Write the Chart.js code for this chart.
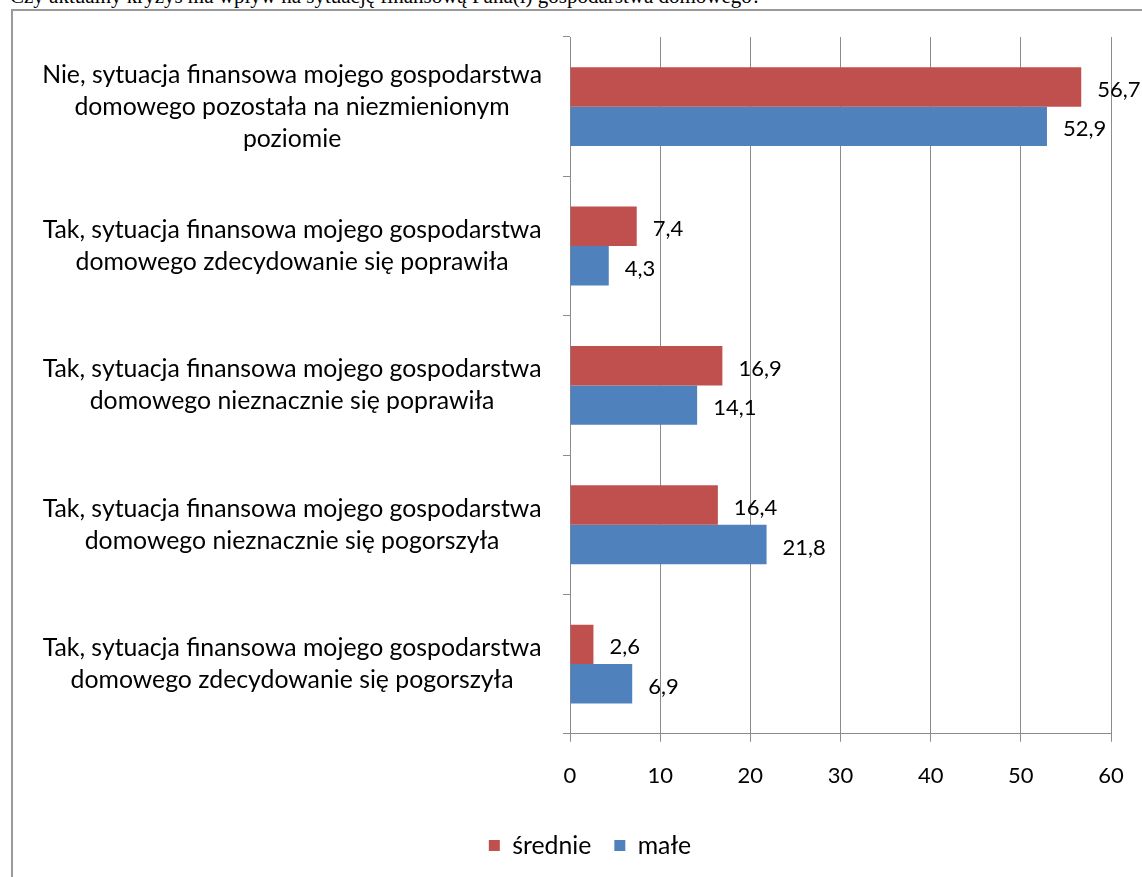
<!DOCTYPE html>
<html>
<head>
<meta charset="utf-8">
<script src="https://cdn.jsdelivr.net/npm/chart.js@4.4.0/dist/chart.umd.min.js"></script>
<style>
  html, body { margin: 0; padding: 0; background: #fff; overflow: hidden; }
  body { width: 1142px; height: 877px; position: relative; }
  .question {
    position: absolute; left: 10px; top: -14px; white-space: nowrap;
    font: 21px/21px "Liberation Serif", "Times New Roman", serif; color: #000;
  }
  .frame {
    position: absolute; left: 11px; top: 9px; width: 1180px; height: 900px;
    border: 2px solid #9a9a9a; background: #fff; overflow: hidden;
  }
  .frame canvas { position: absolute; left: 0; top: 0; }
</style>
</head>
<body>
<div class="question">Czy aktualny kryzys ma wpływ na sytuację finansową Pana(i) gospodarstwa domowego?</div>
<div class="frame"><canvas id="c" width="1160" height="871"></canvas></div>
<script>
// categories (top to bottom)
const categories = [
  ['Nie, sytuacja finansowa mojego gospodarstwa', 'domowego pozostała na niezmienionym', 'poziomie'],
  ['Tak, sytuacja finansowa mojego gospodarstwa', 'domowego zdecydowanie się poprawiła'],
  ['Tak, sytuacja finansowa mojego gospodarstwa', 'domowego nieznacznie się poprawiła'],
  ['Tak, sytuacja finansowa mojego gospodarstwa', 'domowego nieznacznie się pogorszyła'],
  ['Tak, sytuacja finansowa mojego gospodarstwa', 'domowego zdecydowanie się pogorszyła'],
];
const srednie = [56.7, 7.4, 16.9, 16.4, 2.6];
const male = [52.9, 4.3, 14.1, 21.8, 6.9];
const xTicks = [0, 10, 20, 30, 40, 50, 60];

const RED = '#c0504d';
const BLUE = '#4f81bd';
const GRID = '#8c8c8c';
const FONT = 'Lato, "Open Sans", sans-serif';
const TEXT_SIZE = 24.8;  // lowercase text (labels, legend)
const NUM_SIZE = 22;     // digits (ticks, value labels)

// value labels to the right of each bar, decimal comma
const valueLabels = {
  id: 'valueLabels',
  afterDatasetsDraw(chart) {
    const ctx = chart.ctx;
    ctx.save();
    ctx.font = `${NUM_SIZE}px ${FONT}`;
    ctx.fillStyle = '#000';
    ctx.textAlign = 'left';
    ctx.textBaseline = 'middle';
    chart.data.datasets.forEach((ds, i) => {
      chart.getDatasetMeta(i).data.forEach((bar, j) => {
        ctx.fillText(ds.data[j].toFixed(1).replace('.', ','), bar.x + 16, bar.y + 3);
      });
    });
    ctx.restore();
  },
};

// the original legend sits a bit right of the canvas centre
const legendNudge = {
  id: 'legendNudge',
  afterLayout(chart) {
    if (!chart.legend) return;
    chart.legend.left += 18;
    chart.legend.right += 18;
  },
};

new Chart(document.getElementById('c'), {
  type: 'bar',
  data: {
    labels: categories,
    datasets: [
      { label: 'średnie', data: srednie, backgroundColor: RED },
      { label: 'małe', data: male, backgroundColor: BLUE },
    ],
  },
  options: {
    indexAxis: 'y',
    responsive: false,
    animation: false,
    categoryPercentage: 0.566,
    barPercentage: 1,
    layout: { padding: { top: 26, right: 62, left: 20, bottom: 14 } },
    plugins: {
      legend: {
        position: 'bottom',
        labels: {
          font: { family: FONT, size: TEXT_SIZE },
          color: '#000',
          boxWidth: 11, boxHeight: 11,
          padding: 23,
        },
      },
      tooltip: { enabled: false },
    },
    scales: {
      x: {
        min: 0, max: 60,
        afterBuildTicks(axis) { axis.ticks = xTicks.map(v => ({ value: v })); },
        grid: { color: GRID, lineWidth: 1, tickLength: 8 },
        border: { color: GRID, width: 1 },
        ticks: { font: { family: FONT, size: NUM_SIZE }, color: '#000', padding: 21 },
      },
      y: {
        // fixed axis width; ignore the overhang of the tall first/last labels
        afterFit(axis) {
          axis.width = 537;
          axis.paddingTop = 0;
          axis.paddingBottom = 0;
        },
        grid: { drawOnChartArea: false, color: GRID, tickLength: 7, offset: true },
        border: { color: GRID, width: 1 },
        ticks: {
          font: { family: FONT, size: TEXT_SIZE, lineHeight: '32px' },
          color: '#000',
          crossAlign: 'center',
          padding: 21,
          autoSkip: false,
        },
      },
    },
  },
  plugins: [valueLabels, legendNudge],
});
</script>
</body>
</html>
